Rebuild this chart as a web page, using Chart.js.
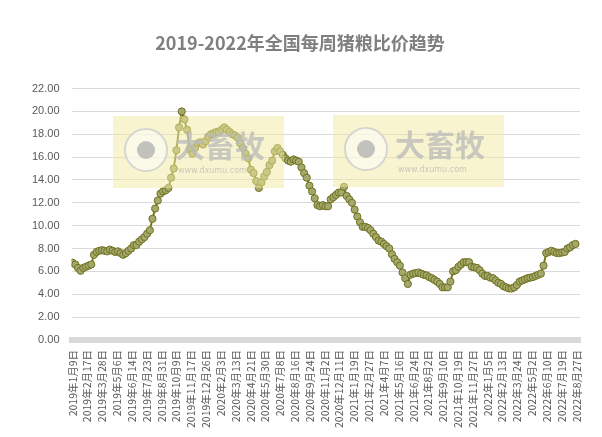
<!DOCTYPE html>
<html lang="zh">
<head>
<meta charset="UTF-8" />
<title>2019-2022年全国每周猪粮比价趋势</title>
<script src="https://cdn.jsdelivr.net/npm/chart.js"></script>
<style>
  html, body { margin: 0; padding: 0; background: #fff; }
  #wrap { width: 602px; height: 437px; }
</style>
</head>
<body>
<div id="wrap"><canvas id="c"></canvas></div>
<script>
  const title = "2019-2022年全国每周猪粮比价趋势";
  const startDate = new Date(2019, 0, 9);
  const tickStepDays = 39;
  const tickCount = 35;
  // weekly pig/grain price ratio
  const ratio = [
    6.75, 6.6, 6.3, 6.05, 6.3, 6.4, 6.5, 6.6, 7.45, 7.7,
    7.8, 7.85, 7.8, 7.75, 7.9, 7.8, 7.7, 7.75, 7.6, 7.45,
    7.6, 7.8, 8.0, 8.3, 8.3, 8.6, 8.8, 9.0, 9.3, 9.6,
    10.6, 11.5, 12.2, 12.8, 13.0, 13.1, 13.3, 14.2, 15.0, 16.6,
    18.6, 20.0, 19.3, 18.4, 16.7, 16.3, 16.8, 17.2, 17.3, 17.1,
    17.4, 17.8, 18.0, 18.1, 18.2, 18.2, 18.4, 18.6, 18.4, 18.2,
    18.0, 17.9, 17.7, 17.2, 16.8, 16.3, 15.9, 14.9, 14.6, 13.9,
    13.3, 13.8, 14.3, 14.7, 15.3, 15.7, 16.5, 16.8, 16.5, 16.2,
    15.9, 15.7, 15.6, 15.8, 15.7, 15.6, 15.1, 14.6, 14.2, 13.5,
    13.0, 12.4, 11.8, 11.7, 11.8, 11.7, 11.7, 12.3, 12.5, 12.7,
    12.9, 12.9, 13.4, 12.6, 12.3, 12.0, 11.4, 10.8, 10.3, 9.9,
    9.9, 9.8, 9.6, 9.3, 9.0, 8.7, 8.6, 8.4, 8.2, 8.0,
    7.5, 7.1, 6.8, 6.5, 5.9, 5.4, 4.9, 5.7, 5.8, 5.85,
    5.9, 5.8, 5.7, 5.65, 5.5, 5.4, 5.25, 5.1, 4.9, 4.6,
    4.6, 4.6, 5.1, 6.0, 6.1, 6.4, 6.6, 6.8, 6.8, 6.8,
    6.4, 6.35, 6.3, 6.1, 5.8, 5.6, 5.6, 5.45, 5.4, 5.2,
    5.0, 4.9, 4.7, 4.6, 4.5, 4.5, 4.6, 4.8, 5.1, 5.2,
    5.3, 5.4, 5.45, 5.5, 5.6, 5.7, 5.8, 6.5, 7.6, 7.7,
    7.8, 7.7, 7.6, 7.6, 7.65, 7.7, 8.0, 8.1, 8.3, 8.4
  ];

  const points = ratio.map((v, i) => ({ x: i * 7, y: v }));

  function dayLabel(d) {
    const t = new Date(startDate.getTime() + d * 86400000);
    return t.getFullYear() + "年" + (t.getMonth() + 1) + "月" + t.getDate() + "日";
  }

  // yellow logo watermarks on top of the plot
  const watermark = {
    id: "watermark",
    afterDatasetsDraw(chart) {
      const ctx = chart.ctx;
      [[113, 116], [333, 115]].forEach(([x, y]) => {
        ctx.save();
        ctx.fillStyle = "rgba(242,234,160,0.5)";
        ctx.fillRect(x, y, 171, 72);
        ctx.beginPath();
        ctx.arc(x + 33, y + 34, 21, 0, Math.PI * 2);
        ctx.fillStyle = "rgba(255,255,255,0.55)";
        ctx.fill();
        ctx.lineWidth = 2;
        ctx.strokeStyle = "rgba(205,205,205,0.8)";
        ctx.stroke();
        ctx.beginPath();
        ctx.arc(x + 33, y + 34, 9, 0, Math.PI * 2);
        ctx.fillStyle = "rgba(175,175,175,0.75)";
        ctx.fill();
        ctx.fillStyle = "rgba(185,185,185,0.75)";
        ctx.font = "bold 30px 'Noto Sans CJK SC'";
        ctx.textBaseline = "middle";
        ctx.fillText("大畜牧", x + 62, y + 30);
        ctx.font = "8px 'DejaVu Sans'";
        ctx.fillText("www.dxumu.com", x + 65, y + 55);
        ctx.restore();
      });
    }
  };

  new Chart(document.getElementById("c"), {
    type: "line",
    data: {
      datasets: [{
        data: points,
        borderColor: "#777b1c",
        borderWidth: 2,
        pointRadius: 3.6,
        pointBackgroundColor: "#a5a86b",
        pointBorderColor: "#6f7220",
        pointBorderWidth: 1,
        tension: 0
      }]
    },
    options: {
      responsive: true,
      maintainAspectRatio: false,
      animation: false,
      layout: { padding: { left: 20, right: 22, top: 6, bottom: 7 } },
      plugins: {
        legend: { display: false },
        tooltip: { enabled: false },
        title: {
          display: true,
          text: title,
          color: "#7f7f7f",
          font: { size: 18, weight: "bold", family: "'Noto Sans CJK SC'" },
          padding: { top: 26, bottom: 35 }
        }
      },
      scales: {
        x: {
          type: "linear",
          min: -3,
          max: 1335,
          afterBuildTicks(axis) {
            axis.ticks = Array.from({ length: tickCount }, (_, k) => ({ value: k * tickStepDays }));
          },
          grid: { display: false },
          border: { color: "#d9d9d9", width: 6 },
          ticks: {
            color: "#595959",
            font: { size: 10.5, family: "'Noto Sans CJK SC'" },
            minRotation: 90,
            maxRotation: 90,
            autoSkip: false,
            padding: 2,
            callback: v => dayLabel(v)
          }
        },
        y: {
          min: 0,
          max: 22,
          ticks: {
            stepSize: 2,
            padding: 12,
            color: "#595959",
            font: { size: 11, family: "'Liberation Sans'" },
            callback: v => v.toFixed(2)
          },
          grid: { color: "#d9d9d9", drawTicks: false },
          border: { display: false }
        }
      }
    },
    plugins: [watermark]
  });
</script>
</body>
</html>
